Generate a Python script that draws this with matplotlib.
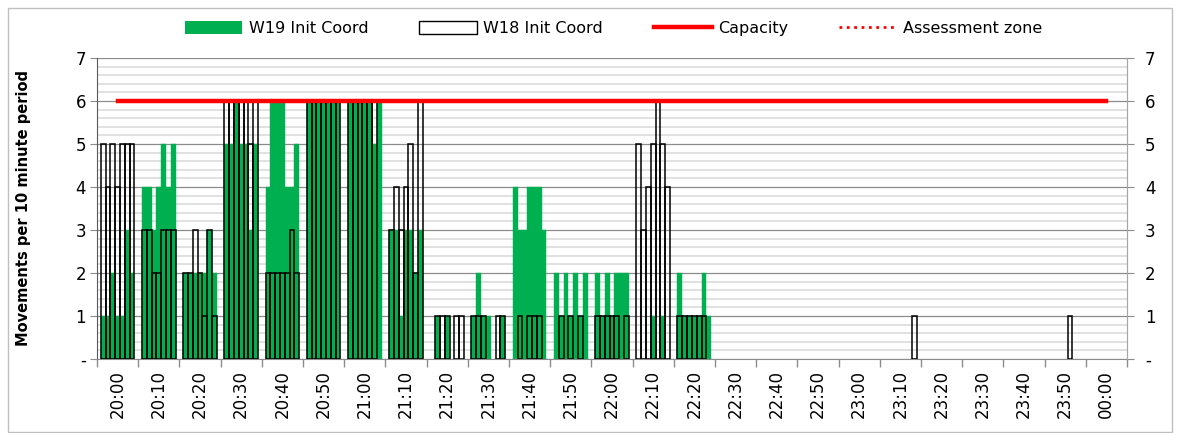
import numpy as np
import matplotlib.pyplot as plt
from matplotlib.patches import Patch, Rectangle
from matplotlib.lines import Line2D

# 10 minute period labels
periods = ["20:00", "20:10", "20:20", "20:30", "20:40", "20:50",
           "21:00", "21:10", "21:20", "21:30", "21:40", "21:50",
           "22:00", "22:10", "22:20", "22:30", "22:40", "22:50",
           "23:00", "23:10", "23:20", "23:30", "23:40", "23:50", "00:00"]

# movements, 7 rolling values inside every 10 minute period
w19 = [
    [1, 1, 2, 1, 1, 3, 2],
    [4, 4, 3, 4, 5, 4, 5],
    [2, 2, 2, 2, 2, 3, 2],
    [5, 5, 6, 5, 5, 3, 5],
    [4, 6, 6, 6, 4, 4, 5],
    [6, 6, 6, 6, 6, 6, 6],
    [6, 6, 6, 6, 6, 5, 6],
    [3, 3, 1, 3, 3, 2, 3],
    [0, 1, 0, 1, 0, 0, 0],
    [1, 2, 1, 1, 0, 0, 1],
    [4, 3, 3, 4, 4, 4, 3],
    [2, 1, 2, 1, 2, 1, 2],
    [2, 1, 2, 1, 2, 2, 2],
    [0, 0, 0, 1, 0, 1, 0],
    [2, 1, 1, 1, 1, 2, 1],
    [0, 0, 0, 0, 0, 0, 0],
    [0, 0, 0, 0, 0, 0, 0],
    [0, 0, 0, 0, 0, 0, 0],
    [0, 0, 0, 0, 0, 0, 0],
    [0, 0, 0, 0, 0, 0, 0],
    [0, 0, 0, 0, 0, 0, 0],
    [0, 0, 0, 0, 0, 0, 0],
    [0, 0, 0, 0, 0, 0, 0],
    [0, 0, 0, 0, 0, 0, 0],
    [0, 0, 0, 0, 0, 0, 0],
]
w18 = [
    [5, 4, 5, 4, 5, 5, 5],
    [3, 3, 2, 2, 3, 3, 3],
    [2, 2, 3, 2, 1, 3, 1],
    [6, 6, 6, 6, 6, 5, 6],
    [2, 2, 2, 2, 2, 3, 2],
    [6, 6, 6, 6, 6, 6, 6],
    [6, 6, 6, 6, 6, 6, 0],
    [3, 4, 3, 4, 5, 2, 6],
    [0, 1, 1, 1, 0, 1, 1],
    [1, 1, 1, 0, 0, 1, 1],
    [0, 1, 0, 1, 1, 1, 0],
    [0, 1, 0, 1, 0, 1, 0],
    [1, 1, 1, 1, 1, 0, 1],
    [5, 3, 4, 5, 6, 5, 4],
    [1, 1, 1, 1, 1, 1, 0],
    [0, 0, 0, 0, 0, 0, 0],
    [0, 0, 0, 0, 0, 0, 0],
    [0, 0, 0, 0, 0, 0, 0],
    [0, 0, 0, 0, 0, 0, 0],
    [0, 0, 0, 0, 0, 0, 1],
    [0, 0, 0, 0, 0, 0, 0],
    [0, 0, 0, 0, 0, 0, 0],
    [0, 0, 0, 0, 0, 0, 0],
    [0, 0, 0, 0, 1, 0, 0],
    [0, 0, 0, 0, 0, 0, 0],
]
capacity = 6
assessment = 6

plt.rcParams['font.family'] = ['DejaVu Sans']

fig = plt.figure(figsize=(11.8, 4.33), dpi=100)
ax = fig.add_axes([0.0822, 0.171, 0.8728, 0.695])

bw = 0.117
xs, h19, h18 = [], [], []
for i in range(len(periods)):
    for j in range(7):
        xs.append(i + (j - 3) * bw)
        h19.append(w19[i][j])
        h18.append(w18[i][j])
xs = np.array(xs)
h19 = np.array(h19)
h18 = np.array(h18)

m = h19 > 0
ax.bar(xs[m], h19[m], width=bw, color='#00B050', edgecolor='#00B050', linewidth=0.3, zorder=3)
m = h18 > 0
ax.bar(xs[m], h18[m], width=bw, facecolor='none', edgecolor='black', linewidth=1.1, zorder=4)

xl = np.arange(len(periods))
ax.plot(xl, [capacity] * len(xl), color='#FF0000', lw=3.2, zorder=5)
ax.plot(xl, [assessment] * len(xl), color='#FF0000', lw=1.5, ls=':', zorder=6)

ax.set_xlim(-0.5, len(periods) - 0.5)
ax.set_ylim(0, 7)
ax.set_yticks(range(8))
ax.set_yticks(np.arange(0, 7.01, 0.2), minor=True)
ylabels = ['-'] + [str(v) for v in range(1, 8)]
ax.set_yticklabels(ylabels, fontsize=12)
ax.grid(which='major', axis='y', color='#8c8c8c', lw=0.9, zorder=1)
ax.grid(which='minor', axis='y', color='#dedede', lw=1.3, zorder=0)
ax.set_axisbelow(True)

ax.set_xticks(xl)
ax.set_xticklabels(periods, rotation=90, fontsize=12)
ax.set_xticks(np.arange(-0.5, len(periods), 1), minor=True)
ax.tick_params(axis='x', which='major', length=0, pad=8)
ax.tick_params(axis='x', which='minor', length=6, color='#8c8c8c', width=1)
ax.tick_params(axis='y', which='major', length=5, color='#8c8c8c', pad=3)
ax.tick_params(axis='y', which='minor', length=0)

ax.spines['top'].set_visible(False)
ax.spines['left'].set_color('#595959')
ax.spines['right'].set_color('#a6a6a6')
ax.spines['bottom'].set_color('#8c8c8c')

ax2 = ax.twinx()
ax2.set_ylim(0, 7)
ax2.set_yticks(range(8))
ax2.set_yticklabels(ylabels, fontsize=12)
ax2.tick_params(axis='y', length=5, color='#8c8c8c', pad=8)
for s in ['top', 'left', 'bottom']:
    ax2.spines[s].set_visible(False)
ax2.spines['right'].set_color('#a6a6a6')

ax.set_ylabel('Movements per 10 minute period', fontsize=10.5, fontweight='bold', labelpad=32)

handles = [Patch(facecolor='#00B050', edgecolor='none'),
           Patch(facecolor='white', edgecolor='black', lw=1),
           Line2D([], [], color='#FF0000', lw=3.2),
           Line2D([], [], color='#FF0000', lw=2, ls=':')]
labels = ['W19 Init Coord', 'W18 Init Coord', 'Capacity', 'Assessment zone']
fig.legend(handles, labels, loc='center', bbox_to_anchor=(0.52, 0.935), ncol=4,
           frameon=False, fontsize=11.5, handlelength=3.6, handleheight=0.9,
           columnspacing=3.2, handletextpad=0.4)

fig.patches.append(Rectangle((0.007, 0.003), 0.986, 0.978, transform=fig.transFigure,
                             fill=False, edgecolor='#bfbfbf', lw=1))

fig.savefig('out.png', dpi=100)
